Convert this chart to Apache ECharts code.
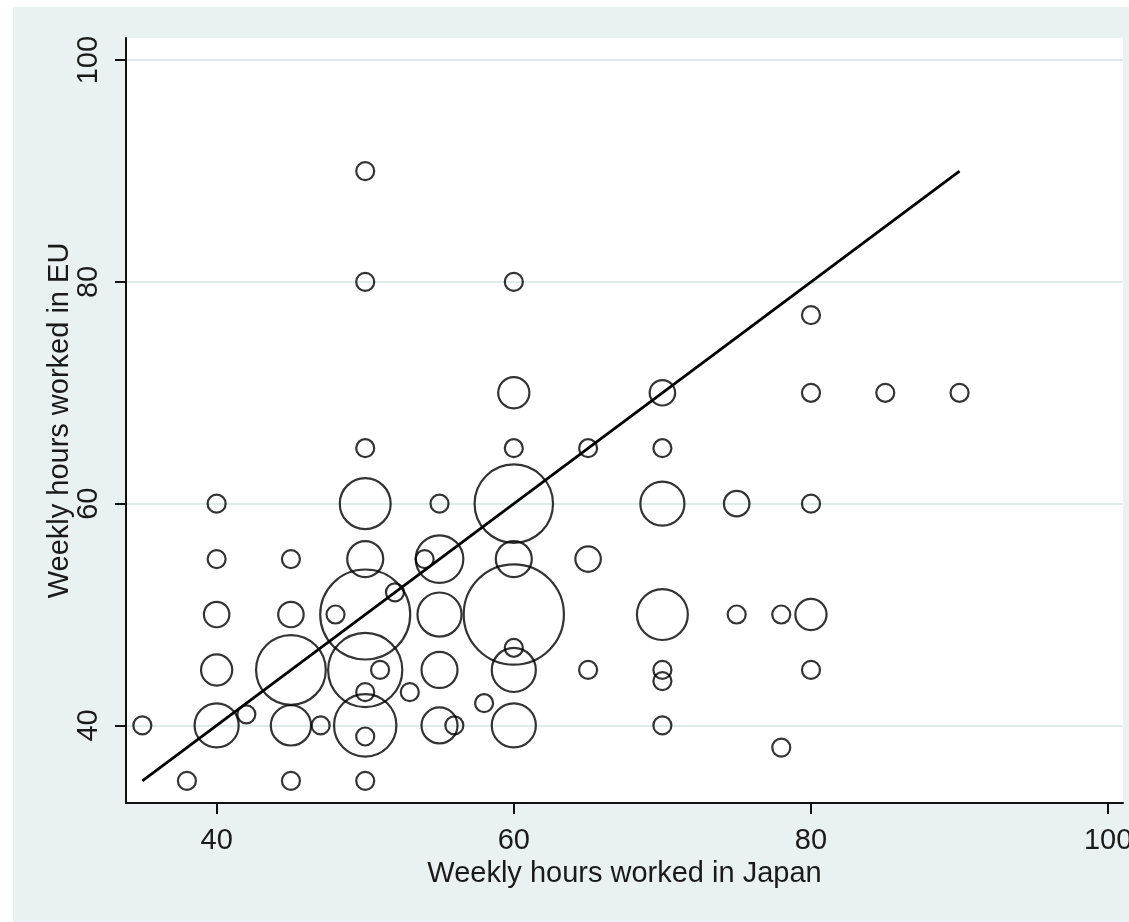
<!DOCTYPE html>
<html>
<head>
    <meta charset="utf-8">
    <title>Weekly hours worked</title>
    <script src="https://cdn.jsdelivr.net/npm/echarts@6/dist/echarts.min.js"></script>
    <style>
        html, body { margin: 0; padding: 0; background: #fff; overflow: hidden; }
        #chart1 { position: absolute; left: 0; top: 0; width: 1129px; height: 922px; }
    </style>
</head>
<body>
<div id="chart1"></div>
<script type="text/javascript">
// hours in Japan (x), hours in EU (y), number of people at that point (bubble weight)
var japanHours = [35, 38, 40, 40, 40, 40, 40, 42, 45, 45, 45, 45, 45, 47, 48,
    50, 50, 50, 50, 50, 50, 50, 50, 50, 50, 50, 51, 52, 53, 54,
    55, 55, 55, 55, 55, 56, 58, 60, 60, 60, 60, 60, 60, 60, 60, 60,
    65, 65, 65, 70, 70, 70, 70, 70, 70, 70, 75, 75, 78, 78,
    80, 80, 80, 80, 80, 85, 90];
var euHours = [40, 35, 60, 55, 50, 45, 40, 41, 55, 50, 45, 40, 35, 40, 50,
    90, 80, 65, 60, 55, 50, 45, 43, 40, 39, 35, 45, 52, 43, 55,
    60, 55, 50, 45, 40, 40, 42, 80, 70, 65, 60, 55, 50, 47, 45, 40,
    65, 55, 45, 70, 65, 60, 50, 45, 44, 40, 60, 50, 50, 38,
    77, 70, 60, 50, 45, 70, 70];
var counts = [1, 1, 1, 1, 2, 3, 6, 1, 1, 2, 15, 5, 1, 1, 1,
    1, 1, 1, 8, 4, 25, 17, 1, 12, 1, 1, 1, 1, 1, 1,
    1, 7, 6, 4, 4, 1, 1, 1, 3, 1, 19, 4, 31, 1, 6, 6,
    1, 2, 1, 2, 1, 6, 8, 1, 1, 1, 2, 1, 1, 1,
    1, 1, 1, 3, 1, 1, 1];

// fitted line
var fitX = [35, 90];
var fitY = [35, 90];

var tickValues = [40, 60, 80, 100];

var points = japanHours.map(function (x, i) {
    return [x, euHours[i], counts[i]];
});
var fitLine = fitX.map(function (x, i) {
    return [x, fitY[i]];
});

var font = "'Liberation Sans', Arial, sans-serif";

var myChart1 = echarts.init(document.getElementById('chart1'));
myChart1.setOption({
    animation: false,
    backgroundColor: '#eaf1f3',
    graphic: [
        { type: 'rect', left: 0, top: 0, shape: { width: 1129, height: 7 }, style: { fill: '#ffffff' }, silent: true },
        { type: 'rect', left: 0, top: 0, shape: { width: 13, height: 922 }, style: { fill: '#ffffff' }, silent: true }
    ],
    grid: {
        left: 126,
        top: 38,
        right: 6,
        bottom: 119,
        outerBoundsMode: 'none',
        containLabel: false,
        show: true,
        backgroundColor: '#ffffff',
        borderWidth: 0
    },
    xAxis: {
        type: 'value',
        min: 33.9,
        max: 101,
        name: 'Weekly hours worked in Japan',
        nameLocation: 'middle',
        nameGap: 50,
        nameTextStyle: { fontFamily: font, fontSize: 29, color: '#1a1a1a' },
        axisLine: { show: true, onZero: false, lineStyle: { color: '#111', width: 2 } },
        axisTick: { show: true, length: 11, customValues: tickValues, lineStyle: { color: '#111', width: 2 } },
        axisLabel: { customValues: tickValues, margin: 23, fontFamily: font, fontSize: 29, color: '#1a1a1a' },
        splitLine: { show: false }
    },
    yAxis: {
        type: 'value',
        min: 33,
        max: 102,
        name: 'Weekly hours worked in EU',
        nameLocation: 'middle',
        nameRotate: 90,
        nameGap: 52,
        nameMoveOverlap: false,
        nameTextStyle: { fontFamily: font, fontSize: 29, color: '#1a1a1a' },
        axisLine: { show: true, onZero: false, lineStyle: { color: '#111', width: 2 } },
        axisTick: { show: true, length: 11, customValues: tickValues, lineStyle: { color: '#111', width: 2 } },
        axisLabel: { customValues: tickValues, rotate: 90, margin: 23, fontFamily: font, fontSize: 29, color: '#1a1a1a' },
        splitLine: { show: true, lineStyle: { color: '#dfeaea', width: 2 } }
    },
    series: [{
        name: 'people',
        type: 'scatter',
        data: points,
        symbol: 'circle',
        symbolSize: function (val) {
            return 18 * Math.sqrt(val[2]);
        },
        itemStyle: { color: 'rgba(0,0,0,0)', borderColor: '#000', borderWidth: 2.2 },
        z: 3
    }, {
        name: 'fit',
        type: 'line',
        data: fitLine,
        showSymbol: false,
        symbol: 'none',
        lineStyle: { color: '#000', width: 2.8 },
        z: 4
    }]
});
</script>
</body>
</html>
